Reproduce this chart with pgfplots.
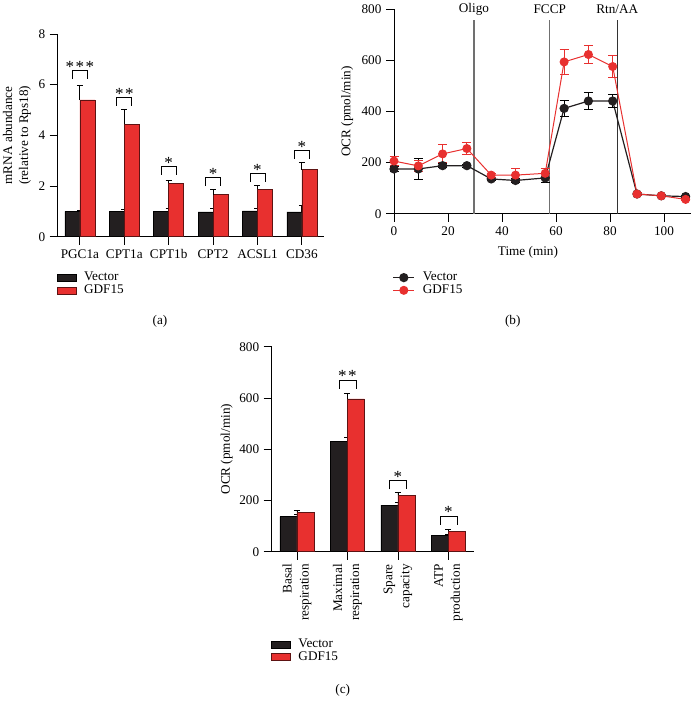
\documentclass[border=0pt]{standalone}
\usepackage{fontspec}
\setmainfont{Liberation Serif}
\usepackage{pgfplots}
\pgfplotsset{compat=1.18}
\definecolor{vblack}{HTML}{231F20}
\definecolor{gred}{HTML}{E8302F}
\definecolor{vgray}{HTML}{707070}
\tikzset{sig/.style={line width=0.8pt, black}, star/.style={anchor=base, font=\fontsize{17}{19}\selectfont, yshift=-1.5pt, inner sep=0pt}}
\pgfplotsset{
  mybase/.style={
    scale only axis, axis lines=left, axis line style={-, line width=0.9pt, black},
    tick align=outside, major tick length=8pt, tick style={line width=0.9pt, black},
    /pgf/number format/assume math mode=true,
    clip=false, anchor=south west,
    legend cell align=left,
    font=\fontsize{13.2}{16}\selectfont,
    tick label style={font=\fontsize{13.2}{16}\selectfont},
    label style={font=\fontsize{13.2}{16}\selectfont},
  },
  legst/.style={legend style={at={#1}, anchor=north west, draw=none, fill=none, row sep=0pt, column sep=7pt, inner sep=0pt, nodes={inner sep=1pt}, font=\fontsize{13.2}{16}\selectfont}},
  barleg/.style={legend image code/.code={\draw[##1] (0pt,-3.5pt) rectangle (19pt,3.5pt);}},
  lineleg/.style={legend image code/.code={\draw[mark repeat=2,mark phase=2,##1] plot coordinates {(0pt,0pt) (10.5pt,0pt) (21pt,0pt)};}},
  ebar/.style={error bars/.cd, y dir=#1, y explicit,
    error bar style={line width=0.9pt, black},
    error mark options={rotate=90, mark size=3pt, line width=0.9pt, black}},
}
\begin{document}
\fontsize{13.2}{16}\selectfont
\begin{tikzpicture}[font=\fontsize{13.2}{16}\selectfont]
\useasboundingbox (0pt,0pt) rectangle (691pt,708pt);
% ---------------- (a)
\begin{axis}[mybase, at={(57.7pt,471.3pt)}, width=266.4pt, height=202.7pt,
  xmin=-0.5, xmax=5.5, ymin=0, ymax=8,
  xtick={0,1,2,3,4,5}, xticklabels={PGC1a,CPT1a,CPT1b,CPT2,ACSL1,CD36},
  ytick={0,2,4,6,8},
  ylabel={mRNA abundance\\(relative to Rps18)},
  ylabel style={align=center, at={(rel axis cs:-0.153,0.5)}, anchor=center},
  legst={(-0.005,-0.17)},
]
\addplot[ybar, bar width=15pt, bar shift=-7.5pt, fill=vblack, draw=black, line width=0.6pt, barleg, ebar=plus]
  coordinates {(0,1.00) +- (0,0.03) (1,1.00) +- (0,0.06) (2,1.00) +- (0,0.13) (3,0.98) +- (0,0.12) (4,1.02) +- (0,0.08) (5,0.98) +- (0,0.27)};
\addplot[ybar, bar width=15pt, bar shift=7.5pt, fill=gred, draw=black!60!gred, line width=0.6pt, barleg, ebar=plus]
  coordinates {(0,5.40) +- (0,0.57) (1,4.44) +- (0,0.59) (2,2.11) +- (0,0.12) (3,1.66) +- (0,0.20) (4,1.87) +- (0,0.14) (5,2.64) +- (0,0.29)};
\legend{Vector, GDF15}
\draw[sig] (axis cs:-0.17,6.22) -- (axis cs:-0.17,6.55) -- (axis cs:0.17,6.55) -- (axis cs:0.17,6.22);
\node[star] at (axis cs:0,6.55) {*\kern1.5pt*\kern1.5pt*};
\draw[sig] (axis cs:0.83,5.16) -- (axis cs:0.83,5.49) -- (axis cs:1.17,5.49) -- (axis cs:1.17,5.16);
\node[star] at (axis cs:1,5.49) {*\kern1.5pt*};
\draw[sig] (axis cs:1.83,2.44) -- (axis cs:1.83,2.77) -- (axis cs:2.17,2.77) -- (axis cs:2.17,2.44);
\node[star] at (axis cs:2,2.77) {*};
\draw[sig] (axis cs:2.83,2.00) -- (axis cs:2.83,2.33) -- (axis cs:3.17,2.33) -- (axis cs:3.17,2.00);
\node[star] at (axis cs:3,2.33) {*};
\draw[sig] (axis cs:3.83,2.15) -- (axis cs:3.83,2.48) -- (axis cs:4.17,2.48) -- (axis cs:4.17,2.15);
\node[star] at (axis cs:4,2.48) {*};
\draw[sig] (axis cs:4.83,3.06) -- (axis cs:4.83,3.39) -- (axis cs:5.17,3.39) -- (axis cs:5.17,3.06);
\node[star] at (axis cs:5,3.39) {*};
\end{axis}
\node at (160pt,386.3pt) {(a)};
% ---------------- (b)
\begin{axis}[mybase, at={(394pt,494.3pt)}, width=297pt, height=204.4pt,
  xmin=0, xmax=110, ymin=0, ymax=800,
  xtick={0,20,40,60,80,100}, ytick={0,200,400,600,800},
  xlabel={Time (min)}, ylabel={OCR (pmol/min)},
  xlabel style={at={(rel axis cs:0.451,-0.187)}, anchor=center},
  ylabel style={at={(rel axis cs:-0.158,0.5)}, anchor=center},
  legst={(-0.005,-0.281)},
]
\draw[vgray, line width=1.3pt] (axis cs:29.6,0) -- (axis cs:29.6,758);
\draw[vgray, line width=1.3pt] (axis cs:57.7,0) -- (axis cs:57.7,758);
\draw[black!80, line width=1.1pt] (axis cs:82.7,0) -- (axis cs:82.7,758);
\node at (axis cs:29.6,800) {Oligo};
\node at (axis cs:57.7,800) {FCCP};
\node at (axis cs:82.7,800) {Rtn/AA};
\addplot[color=vblack, line width=1.2pt, mark=*, mark size=4pt, mark options={fill=vblack}, lineleg,
  error bars/.cd, y dir=both, y explicit,
  error bar style={line width=1pt, black},
  error mark options={rotate=90, mark size=4.5pt, line width=1pt, black}]
  coordinates {(0,175) +- (0,10) (9,175) +- (0,40) (18,188) +- (0,8) (27,188) +- (0,6) (36,136) +- (0,6) (45,130) +- (0,6) (56,140) +- (0,18) (63,412) +- (0,30) (72,441) +- (0,35) (81,441) +- (0,27) (90,77) +- (0,4) (99,70) +- (0,4) (108,67) +- (0,4)};
\addplot[color=gred, line width=1pt, mark=*, mark size=4pt, mark options={fill=gred}, lineleg,
  error bars/.cd, y dir=both, y explicit,
  error bar style={line width=1pt, gred},
  error mark options={rotate=90, mark size=4.5pt, line width=1pt, gred}]
  coordinates {(0,206) +- (0,17) (9,187) +- (0,20) (18,234) +- (0,35) (27,255) +- (0,22) (36,151) +- (0,8) (45,151) +- (0,25) (56,158) +- (0,20) (63,594) +- (0,50) (72,623) +- (0,37) (81,576) +- (0,42) (90,77) +- (0,4) (99,70) +- (0,4) (108,56) +- (0,4)};
\legend{Vector, GDF15}
\end{axis}
\node at (512.7pt,386.3pt) {(b)};
% ---------------- (c)
\begin{axis}[mybase, at={(271.7pt,156.3pt)}, width=202pt, height=205pt,
  xmin=-0.5, xmax=3.5, ymin=0, ymax=800,
  xtick={0,1,2,3}, ytick={0,200,400,600,800},
  xticklabels={{Basal\\respiration},{Maximal\\respiration},{Spare\\capacity},{ATP\\production}},
  xticklabel style={rotate=90, anchor=east, align=right, font=\fontsize{13.2}{17}\selectfont},
  ylabel={OCR (pmol/min)},
  ylabel style={at={(rel axis cs:-0.223,0.5)}, anchor=center},
  legst={(-0.005,-0.42)},
]
\addplot[ybar, bar width=17pt, bar shift=-8.5pt, fill=vblack, draw=black, line width=0.6pt, barleg, ebar=plus]
  coordinates {(0,137) +- (0,8) (1,432) +- (0,15) (2,182) +- (0,9) (3,65) +- (0,4)};
\addplot[ybar, bar width=17pt, bar shift=8.5pt, fill=gred, draw=black!60!gred, line width=0.6pt, barleg, ebar=plus]
  coordinates {(0,153) +- (0,9) (1,596) +- (0,23) (2,220) +- (0,13) (3,79) +- (0,6)};
\legend{Vector, GDF15}
\draw[sig] (axis cs:0.832,636) -- (axis cs:0.832,670) -- (axis cs:1.168,670) -- (axis cs:1.168,636);
\node[star] at (axis cs:1,670) {*\kern1.5pt*};
\draw[sig] (axis cs:1.832,243) -- (axis cs:1.832,277) -- (axis cs:2.168,277) -- (axis cs:2.168,243);
\node[star] at (axis cs:2,277) {*};
\draw[sig] (axis cs:2.832,105) -- (axis cs:2.832,139) -- (axis cs:3.168,139) -- (axis cs:3.168,105);
\node[star] at (axis cs:3,139) {*};
\end{axis}
\node at (342.7pt,18pt) {(c)};
\end{tikzpicture}
\end{document}
